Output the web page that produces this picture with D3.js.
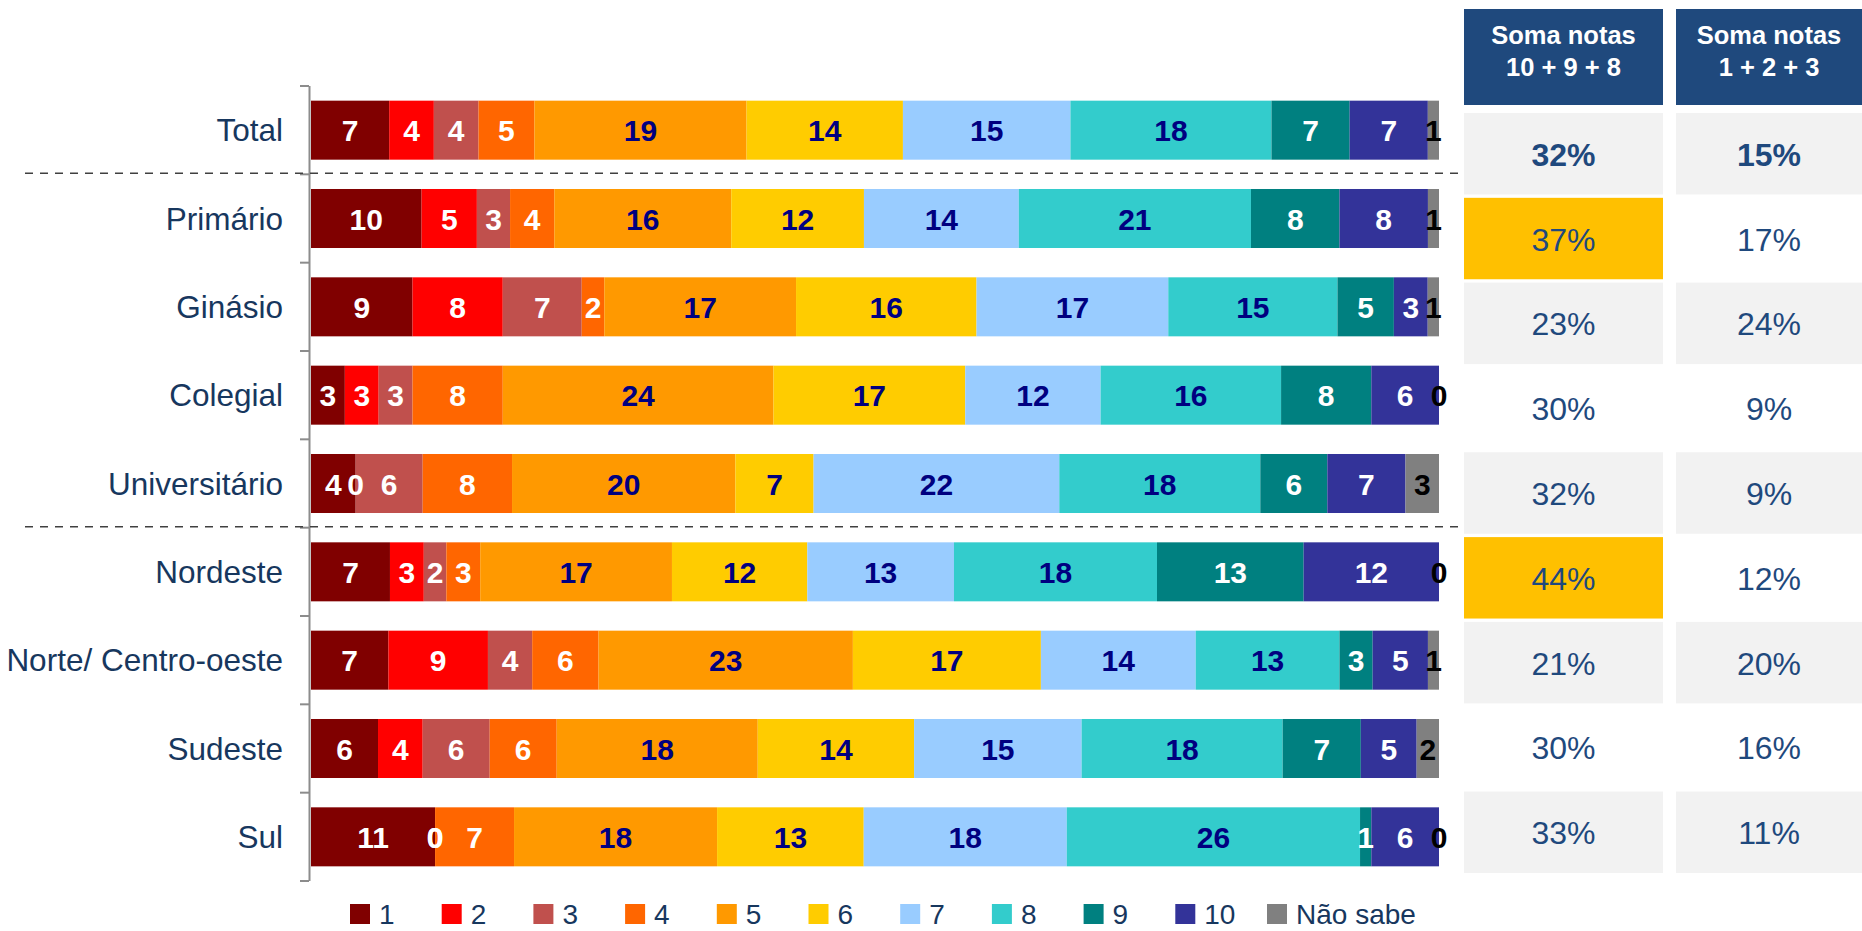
<!DOCTYPE html>
<html>
<head>
<meta charset="utf-8">
<script src="https://cdn.jsdelivr.net/npm/d3@7"></script>
<style>
  body { margin: 0; background: #fff; }
  text { font-family: "Liberation Sans", Arial, sans-serif; }
</style>
</head>
<body>
<script>
const width = 1862;
const height = 931;

// categorias (linhas)
const categories = ['Total', 'Primário', 'Ginásio', 'Colegial', 'Universitário',
    'Nordeste', 'Norte/ Centro-oeste', 'Sudeste', 'Sul'];

// notas (séries)
const keys = ['1', '2', '3', '4', '5', '6', '7', '8', '9', '10', 'Não sabe'];

const nota1 = [7, 10, 9, 3, 4, 7, 7, 6, 11];
const nota2 = [4, 5, 8, 3, 0, 3, 9, 4, 0];
const nota3 = [4, 3, 7, 3, 6, 2, 4, 6, 0];
const nota4 = [5, 4, 2, 8, 8, 3, 6, 6, 7];
const nota5 = [19, 16, 17, 24, 20, 17, 23, 18, 18];
const nota6 = [14, 12, 16, 17, 7, 12, 17, 14, 13];
const nota7 = [15, 14, 17, 12, 22, 13, 14, 15, 18];
const nota8 = [18, 21, 15, 16, 18, 18, 13, 18, 26];
const nota9 = [7, 8, 5, 8, 6, 13, 3, 7, 1];
const nota10 = [7, 8, 3, 6, 7, 12, 5, 5, 6];
const naoSabe = [1, 1, 1, 0, 3, 0, 1, 2, 0];

// tabela à direita
const headers = [['Soma notas', '10 + 9 + 8'], ['Soma notas', '1 + 2 + 3']];
const soma1098 = [32, 37, 23, 30, 32, 44, 21, 30, 33];
const soma123 = [15, 17, 24, 9, 9, 12, 20, 16, 11];
const destaque = ['Primário', 'Nordeste'];

const colors = ['#800000', '#ff0000', '#c0504d', '#ff6600', '#ff9900', '#ffcc00',
    '#99ccff', '#33cccc', '#008080', '#333399', '#808080'];
const labelColors = ['#fff', '#fff', '#fff', '#fff', '#000080', '#000080',
    '#000080', '#000080', '#fff', '#fff', '#000'];

const series = [nota1, nota2, nota3, nota4, nota5, nota6, nota7, nota8, nota9, nota10, naoSabe];
const rows = categories.map((c, i) => {
    const r = { cat: c };
    keys.forEach((k, j) => r[k] = series[j][i]);
    return r;
});

const stacked = d3.stack().keys(keys).offset(d3.stackOffsetExpand)(rows);

const svg = d3.select('body')
    .append('svg')
    .attr('width', width)
    .attr('height', height);

const x = d3.scaleLinear().domain([0, 1]).range([311, 1439]);
const y = d3.scaleBand().domain(categories).range([86, 881]).paddingInner(0.332).paddingOuter(0.166);
const color = d3.scaleOrdinal().domain(keys).range(colors);

// barras
const layer = svg.append('g')
    .selectAll('g')
    .data(stacked)
    .enter()
    .append('g')
    .attr('fill', d => color(d.key));

layer.selectAll('rect')
    .data(d => d)
    .enter()
    .append('rect')
    .attr('x', d => x(d[0]))
    .attr('y', d => y(d.data.cat))
    .attr('width', d => x(d[1]) - x(d[0]))
    .attr('height', y.bandwidth());

// rótulos das barras
svg.append('g')
    .selectAll('g')
    .data(stacked)
    .enter()
    .append('g')
    .attr('fill', (d, i) => labelColors[i])
    .selectAll('text')
    .data(d => d.map(v => ({ v, key: d.key })))
    .enter()
    .append('text')
    .attr('x', d => (x(d.v[0]) + x(d.v[1])) / 2)
    .attr('y', d => y(d.v.data.cat) + y.bandwidth() / 2 + 11)
    .attr('text-anchor', 'middle')
    .attr('font-size', 30)
    .attr('font-weight', 'bold')
    .text(d => d.v.data[d.key]);

// eixo y
const step = y.step();
const axis = svg.append('g').attr('stroke', '#8c8c8c');
axis.append('line')
    .attr('x1', 309.5).attr('x2', 309.5)
    .attr('y1', 86).attr('y2', 881)
    .attr('stroke-width', 2);
axis.selectAll('line.tick')
    .data(d3.range(categories.length + 1))
    .enter()
    .append('line')
    .attr('class', 'tick')
    .attr('x1', 300).attr('x2', 309)
    .attr('y1', i => 86 + i * step)
    .attr('y2', i => 86 + i * step)
    .attr('stroke-width', 2);

svg.append('g')
    .selectAll('text')
    .data(categories)
    .enter()
    .append('text')
    .attr('x', 283)
    .attr('y', d => y(d) + y.bandwidth() / 2 + 11)
    .attr('text-anchor', 'end')
    .attr('font-size', 31.5)
    .attr('fill', '#17375e')
    .text(d => d);

// linhas tracejadas entre grupos
svg.append('g')
    .selectAll('line')
    .data(['Primário', 'Nordeste'])
    .enter()
    .append('line')
    .attr('x1', 25).attr('x2', 1504)
    .attr('y1', d => y(d) - (step - y.bandwidth()) / 2 - 1)
    .attr('y2', d => y(d) - (step - y.bandwidth()) / 2 - 1)
    .attr('stroke', '#404040')
    .attr('stroke-width', 1.5)
    .attr('stroke-dasharray', '8,7');

// tabela
const colX = [1464, 1676];
const colW = [199, 186];
const ty = d3.scaleBand().domain(categories).range([113, 873]).paddingInner(0.04);

headers.forEach((h, c) => {
    svg.append('rect')
        .attr('x', colX[c]).attr('y', 9)
        .attr('width', colW[c]).attr('height', 96)
        .attr('fill', '#1f497d');
    svg.append('text')
        .attr('x', colX[c] + colW[c] / 2)
        .attr('text-anchor', 'middle')
        .attr('fill', '#fff')
        .attr('font-size', 25.5)
        .attr('font-weight', 'bold')
        .selectAll('tspan')
        .data(h)
        .enter()
        .append('tspan')
        .attr('x', colX[c] + colW[c] / 2)
        .attr('y', (d, i) => 44 + i * 32)
        .text(d => d);
});

[soma1098, soma123].forEach((vals, c) => {
    const g = svg.append('g');
    g.selectAll('rect')
        .data(categories)
        .enter()
        .append('rect')
        .attr('x', colX[c])
        .attr('y', d => ty(d))
        .attr('width', colW[c])
        .attr('height', ty.bandwidth())
        .attr('fill', (d, i) => c === 0 && destaque.includes(d) ? '#ffc000'
            : (i % 2 === 0 ? '#f2f2f2' : '#fff'));
    g.selectAll('text')
        .data(categories)
        .enter()
        .append('text')
        .attr('x', colX[c] + colW[c] / 2)
        .attr('y', d => ty(d) + ty.bandwidth() / 2 + 12)
        .attr('text-anchor', 'middle')
        .attr('font-size', 32)
        .attr('font-weight', (d, i) => i === 0 ? 'bold' : 'normal')
        .attr('fill', '#1f497d')
        .text((d, i) => vals[i] + '%');
});

// legenda
const legend = svg.append('g')
    .selectAll('g')
    .data(keys)
    .enter()
    .append('g')
    .attr('transform', (d, i) => `translate(${350 + i * 91.7}, 904)`);

legend.append('rect')
    .attr('width', 20)
    .attr('height', 20)
    .attr('fill', d => color(d));

legend.append('text')
    .attr('x', 29)
    .attr('y', 20)
    .attr('font-size', 28)
    .attr('fill', '#17375e')
    .text(d => d);
</script>
</body>
</html>
